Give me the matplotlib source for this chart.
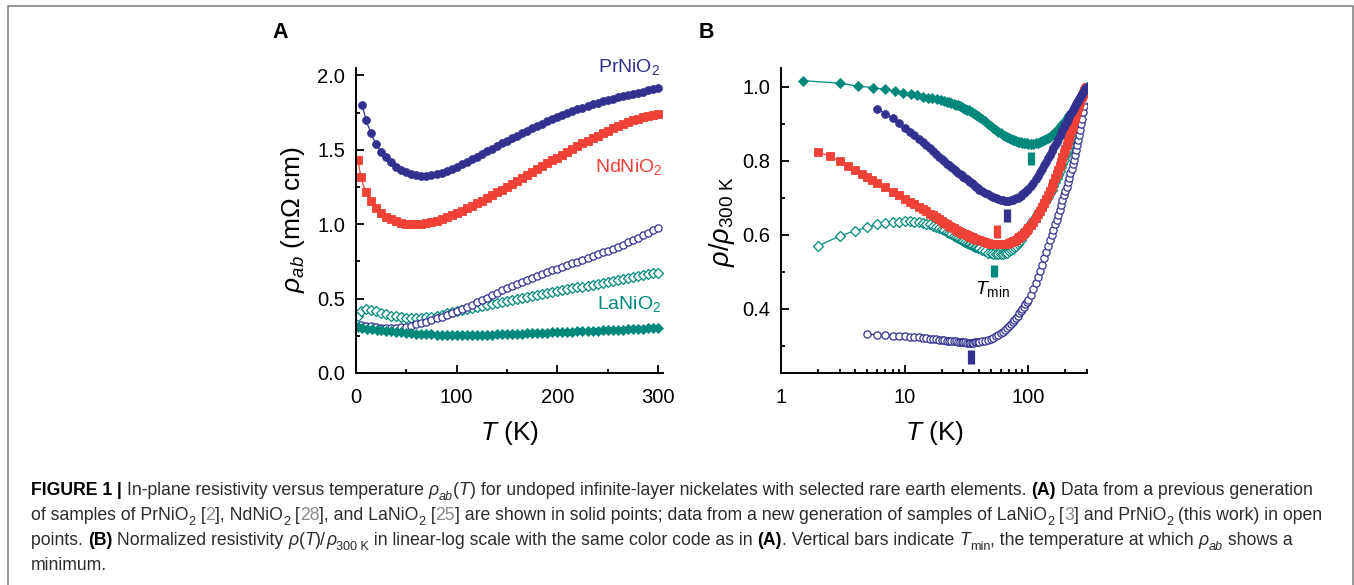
import numpy as np
import matplotlib
matplotlib.use("Agg")
import matplotlib.pyplot as plt
from matplotlib.ticker import LogLocator, NullFormatter, FixedLocator, FixedFormatter
from matplotlib.patches import Rectangle
from matplotlib.font_manager import FontProperties

plt.rcParams['font.family'] = ['Liberation Sans', 'DejaVu Sans']
plt.rcParams['mathtext.fontset'] = 'custom'
plt.rcParams['mathtext.rm'] = 'Liberation Sans'
plt.rcParams['mathtext.it'] = 'Liberation Sans:italic'
plt.rcParams['mathtext.bf'] = 'Liberation Sans:bold'
plt.rcParams['mathtext.sf'] = 'Liberation Sans'

# ---------------- data: rho/rho_300K (panel B) and rho_300K in mOhm cm ----------------
t_pr_solid = [6, 7, 8, 9, 10, 11, 12, 13, 14, 15, 16, 17, 18, 19, 20, 21, 22, 23, 24, 25, 26, 27, 28, 29, 30,
              31, 32, 33, 34, 35, 36, 37, 38, 39, 40, 42.5, 45, 47.5, 50, 52.5, 55, 57.5, 60, 62.5, 65, 67.5,
              70, 72.5, 75, 77.5, 80, 82.5, 85, 87.5, 90, 92.5, 95, 97.5, 100, 105, 110, 115, 120, 125, 130,
              135, 140, 145, 150, 155, 160, 165, 170, 175, 180, 185, 190, 195, 200, 205, 210, 215, 220, 225,
              230, 235, 240, 245, 250, 255, 260, 265, 270, 275, 280, 285, 290, 295, 300]
norm_pr_solid = [0.940, 0.927, 0.915, 0.902, 0.889, 0.878, 0.868, 0.859, 0.850, 0.841, 0.833, 0.825, 0.818,
                 0.811, 0.804, 0.798, 0.792, 0.787, 0.782, 0.777, 0.773, 0.768, 0.764, 0.760, 0.757, 0.753,
                 0.750, 0.746, 0.743, 0.739, 0.736, 0.732, 0.729, 0.725, 0.722, 0.717, 0.713, 0.709, 0.705,
                 0.702, 0.699, 0.697, 0.695, 0.693, 0.692, 0.692, 0.692, 0.693, 0.694, 0.696, 0.698, 0.700,
                 0.702, 0.705, 0.709, 0.712, 0.716, 0.720, 0.724, 0.732, 0.741, 0.750, 0.759, 0.769, 0.778,
                 0.787, 0.797, 0.806, 0.816, 0.825, 0.833, 0.842, 0.851, 0.859, 0.867, 0.875, 0.883, 0.890,
                 0.898, 0.905, 0.912, 0.919, 0.925, 0.931, 0.937, 0.943, 0.948, 0.953, 0.958, 0.962, 0.967,
                 0.971, 0.975, 0.980, 0.984, 0.988, 0.992, 0.996, 1.000]
rho300_pr_solid = 1.915

t_nd = [2, 2.5, 3, 3.5, 4, 4.5, 5, 5.5, 6, 7, 8, 9, 10, 11, 12, 13, 14, 15, 16, 17, 18, 19, 20, 21, 22, 23,
        24, 25, 26, 27, 28, 29, 30, 31, 32, 33, 34, 35, 36, 37, 38, 39, 40, 42.5, 45, 47.5, 50, 52.5, 55, 57.5,
        60, 62.5, 65, 67.5, 70, 72.5, 75, 77.5, 80, 82.5, 85, 87.5, 90, 92.5, 95, 97.5, 100, 105, 110, 115,
        120, 125, 130, 135, 140, 145, 150, 155, 160, 165, 170, 175, 180, 185, 190, 195, 200, 205, 210, 215,
        220, 225, 230, 235, 240, 245, 250, 255, 260, 265, 270, 275, 280, 285, 290, 295, 300]
norm_nd = [0.823, 0.812, 0.798, 0.785, 0.775, 0.765, 0.756, 0.748, 0.741, 0.728, 0.716, 0.706, 0.697, 0.689,
           0.682, 0.675, 0.669, 0.663, 0.657, 0.652, 0.647, 0.642, 0.637, 0.633, 0.629, 0.625, 0.621, 0.617,
           0.614, 0.611, 0.608, 0.605, 0.603, 0.601, 0.599, 0.597, 0.595, 0.593, 0.591, 0.589, 0.588, 0.586,
           0.585, 0.582, 0.580, 0.578, 0.576, 0.575, 0.575, 0.574, 0.574, 0.574, 0.575, 0.576, 0.578, 0.580,
           0.582, 0.584, 0.587, 0.590, 0.594, 0.597, 0.600, 0.604, 0.608, 0.612, 0.617, 0.626, 0.635, 0.645,
           0.655, 0.665, 0.676, 0.686, 0.697, 0.708, 0.719, 0.730, 0.741, 0.752, 0.763, 0.774, 0.786, 0.797,
           0.809, 0.820, 0.831, 0.843, 0.853, 0.864, 0.875, 0.886, 0.896, 0.906, 0.916, 0.926, 0.935, 0.944,
           0.953, 0.961, 0.968, 0.975, 0.981, 0.987, 0.992, 0.996, 1.000]
rho300_nd = 1.742

t_la_solid = [1.5, 3, 4.2, 5.6, 7, 8.4, 9.8, 11.2, 12.6, 14, 15.4, 16.8, 18.2, 19.6, 21, 22, 23, 24, 25, 26, 27,
              28, 29, 30, 31, 32, 33, 34, 35, 36, 37, 38, 39, 40, 42.5, 45, 47.5, 50, 52.5, 55, 57.5, 60, 62.5,
              65, 67.5, 70, 72.5, 75, 77.5, 80, 82.5, 85, 87.5, 90, 92.5, 95, 97.5, 100, 105, 110, 115, 120,
              125, 130, 135, 140, 145, 150, 155, 160, 165, 170, 175, 180, 185, 190, 195, 200, 205, 210, 215,
              220, 225, 230, 235, 240, 245, 250, 255, 260, 265, 270, 275, 280, 285, 290, 295, 300]
norm_la_solid = [1.016, 1.009, 1.001, 0.997, 0.992, 0.987, 0.983, 0.979, 0.976, 0.973, 0.970, 0.968, 0.966,
                 0.963, 0.961, 0.959, 0.957, 0.955, 0.953, 0.951, 0.949, 0.947, 0.945, 0.943, 0.9405, 0.938,
                 0.9355, 0.933, 0.9305, 0.928, 0.9255, 0.923, 0.9205, 0.918, 0.912, 0.906, 0.900, 0.894,
                 0.888, 0.883, 0.878, 0.874, 0.870, 0.867, 0.864, 0.861, 0.859, 0.857, 0.855, 0.853, 0.8515,
                 0.850, 0.849, 0.848, 0.8475, 0.847, 0.8465, 0.846, 0.846, 0.846, 0.847, 0.848, 0.850, 0.852,
                 0.855, 0.858, 0.861, 0.865, 0.869, 0.873, 0.877, 0.881, 0.885, 0.890, 0.894, 0.899, 0.903,
                 0.908, 0.913, 0.917, 0.922, 0.926, 0.931, 0.935, 0.940, 0.945, 0.949, 0.954, 0.959, 0.963,
                 0.968, 0.972, 0.977, 0.982, 0.986, 0.991, 0.995, 1.000]
rho300_la_solid = 0.302

t_la_open = [2, 3, 4, 5, 6, 7, 8, 9, 10, 11, 12, 13, 14, 15, 16, 17, 18, 19, 20, 21, 22, 23, 24, 25, 26, 27, 28,
             29, 30, 31, 32, 33, 34, 35, 36, 37, 38, 39, 40, 42.5, 45, 47.5, 50, 52.5, 55, 57.5, 60, 62.5, 65,
             67.5, 70, 72.5, 75, 77.5, 80, 82.5, 85, 87.5, 90, 92.5, 95, 97.5, 100, 105, 110, 115, 120, 125,
             130, 135, 140, 145, 150, 155, 160, 165, 170, 175, 180, 185, 190, 195, 200, 205, 210, 215, 220,
             225, 230, 235, 240, 245, 250, 255, 260, 265, 270, 275, 280, 285, 290, 295, 300]
norm_la_open = [0.570, 0.597, 0.611, 0.620, 0.628, 0.632, 0.634, 0.635, 0.636, 0.636, 0.635, 0.634, 0.632,
                0.630, 0.628, 0.625, 0.622, 0.619, 0.615, 0.612, 0.608, 0.605, 0.601, 0.598, 0.595, 0.592,
                0.589, 0.586, 0.584, 0.581, 0.579, 0.576, 0.574, 0.572, 0.570, 0.568, 0.566, 0.564, 0.563,
                0.559, 0.555, 0.552, 0.550, 0.548, 0.547, 0.547, 0.547, 0.548, 0.550, 0.552, 0.555, 0.558,
                0.562, 0.566, 0.571, 0.576, 0.581, 0.587, 0.593, 0.599, 0.606, 0.613, 0.620,
                0.631, 0.640, 0.649, 0.658, 0.667, 0.676, 0.685, 0.694, 0.703, 0.712, 0.722, 0.732, 0.742,
                0.752, 0.762, 0.772, 0.782, 0.792, 0.802, 0.812, 0.822, 0.832, 0.842, 0.852, 0.861, 0.870,
                0.879, 0.889, 0.898, 0.907, 0.916, 0.925, 0.934, 0.944, 0.953, 0.962, 0.972, 0.981, 0.991,
                1.000]
rho300_la_open = 0.675

t_pr_open = [5, 6, 7, 8, 9, 10, 11, 12, 13, 14, 15, 16, 17, 18, 19, 20, 21, 22, 23, 24, 25, 26, 27, 28, 29, 30,
             31, 32, 33, 34, 35, 36, 37, 38, 39, 40, 42.5, 45, 47.5, 50, 52.5, 55, 57.5, 60, 62.5, 65, 67.5, 70,
             72.5, 75, 77.5, 80, 82.5, 85, 87.5, 90, 92.5, 95, 97.5, 100, 105, 110, 115, 120, 125, 130, 135,
             140, 145, 150, 155, 160, 165, 170, 175, 180, 185, 190, 195, 200, 205, 210, 215, 220, 225, 230,
             235, 240, 245, 250, 255, 260, 265, 270, 275, 280, 285, 290, 295, 300]
norm_pr_open = [0.332, 0.330, 0.329, 0.328, 0.327, 0.326, 0.325, 0.324, 0.323, 0.322, 0.321, 0.320, 0.319,
                0.318, 0.317, 0.316, 0.315, 0.314, 0.3135, 0.313, 0.3125, 0.312, 0.3115, 0.311, 0.3105, 0.310,
                0.3095, 0.309, 0.309, 0.309, 0.309, 0.309, 0.3095, 0.310, 0.3105, 0.311, 0.312, 0.314, 0.316,
                0.319, 0.322, 0.326, 0.330, 0.334, 0.338, 0.343, 0.348, 0.353, 0.358, 0.364, 0.370, 0.376,
                0.382, 0.388, 0.394, 0.400, 0.406, 0.412, 0.418, 0.424, 0.438, 0.453, 0.469, 0.486, 0.503,
                0.519, 0.536, 0.553, 0.569, 0.585, 0.600, 0.614, 0.628, 0.641, 0.654, 0.667, 0.680, 0.693,
                0.706, 0.718, 0.730, 0.742, 0.754, 0.766, 0.778, 0.790, 0.803, 0.816, 0.829, 0.842, 0.856,
                0.870, 0.884, 0.898, 0.913, 0.930, 0.947, 0.964, 0.982, 1.000]
rho300_pr_open = 0.977

# T_min of each series (K)
tmin_la_solid, tmin_pr_solid, tmin_nd, tmin_la_open, tmin_pr_open = 106, 67, 56, 53, 34.5

# ---------------- styles ----------------
C_PR = '#32318f'
C_ND = '#ef4136'
C_LA = '#00897b'

W, H = 1354, 585
fig = plt.figure(figsize=(W / 100, H / 100), dpi=100)

axA = fig.add_axes([356 / W, 1 - 373 / H, 307 / W, 305 / H])
axB = fig.add_axes([781 / W, 1 - 373 / H, 306 / W, 305 / H])

series = [
    (t_la_open, norm_la_open, rho300_la_open, C_LA, 'D', False, 4.8),
    (t_pr_open, norm_pr_open, rho300_pr_open, C_PR, 'o', False, 5.2),
    (t_la_solid, norm_la_solid, rho300_la_solid, C_LA, 'D', True, 4.9),
    (t_nd, norm_nd, rho300_nd, C_ND, 's', True, 5.2),
    (t_pr_solid, norm_pr_solid, rho300_pr_solid, C_PR, 'o', True, 5.6),
]

for t, n, r300, c, m, filled, ms in series:
    t = np.asarray(t, float)
    n = np.asarray(n, float)
    rho = n * r300
    # panel A shows one marker per 5 K interval
    keep = np.r_[0, np.nonzero(np.diff(np.floor(t / 5)))[0] + 1]
    kw = dict(color=c, lw=0.9, marker=m, ms=ms, mec=c,
              mfc=(c if filled else 'white'), mew=(0.6 if filled else 0.9))
    axA.plot(t, rho, markevery=list(keep), **kw)
    axB.plot(t, n, **kw)

for ax in (axA, axB):
    for s in ('top', 'right'):
        ax.spines[s].set_visible(False)
    for s in ('left', 'bottom'):
        ax.spines[s].set_linewidth(1.4)
    ax.tick_params(which='both', direction='in', width=1.3, labelsize=14.5)
    ax.tick_params(axis='x', which='both', pad=11)
    ax.tick_params(axis='y', which='both', pad=8)
    ax.tick_params(which='major', length=6)
    ax.tick_params(which='minor', length=3.2)

# ---------------- panel A ----------------
axA.set_xlim(0, 305)
axA.set_ylim(0, 2.05)
axA.xaxis.set_major_locator(FixedLocator([0, 100, 200, 300]))
axA.xaxis.set_minor_locator(FixedLocator([50, 150, 250]))
axA.yaxis.set_major_locator(FixedLocator([0.0, 0.5, 1.0, 1.5, 2.0]))
axA.yaxis.set_major_formatter(FixedFormatter(['0.0', '0.5', '1.0', '1.5', '2.0']))
axA.yaxis.set_minor_locator(FixedLocator([0.25, 0.75, 1.25, 1.75]))

axA.text(302, 2.055, 'PrNiO$_2$', color=C_PR, fontsize=14, ha='right', va='center', clip_on=False)
axA.text(305, 1.387, 'NdNiO$_2$', color=C_ND, fontsize=14, ha='right', va='center', clip_on=False)
axA.text(303, 0.463, 'LaNiO$_2$', color=C_LA, fontsize=14, ha='right', va='center', clip_on=False)

fig.text(293 / W, 1 - 220 / H, r'$\mathit{ρ}_{\mathit{ab}}$ (m$\Omega$ cm)', rotation=90,
         fontsize=19, ha='center', va='center')
fig.text(510 / W, 1 - 433 / H, r'$\mathit{T}$ (K)', fontsize=19, ha='center', va='center')

# ---------------- panel B ----------------
axB.set_xscale('log')
axB.set_xlim(1, 300)
axB.set_ylim(0.227, 1.05)
axB.xaxis.set_major_locator(FixedLocator([1, 10, 100]))
axB.xaxis.set_major_formatter(FixedFormatter(['1', '10', '100']))
axB.xaxis.set_minor_locator(LogLocator(base=10, subs=np.arange(2, 10)))
axB.xaxis.set_minor_formatter(NullFormatter())
axB.yaxis.set_major_locator(FixedLocator([0.4, 0.6, 0.8, 1.0]))
axB.yaxis.set_major_formatter(FixedFormatter(['0.4', '0.6', '0.8', '1.0']))
axB.yaxis.set_minor_locator(FixedLocator([0.3, 0.5, 0.7, 0.9]))

bars = [(tmin_la_solid, 0.788, 0.824, C_LA), (tmin_pr_solid, 0.635, 0.669, C_PR),
        (tmin_nd, 0.590, 0.626, C_ND), (tmin_la_open, 0.485, 0.518, C_LA),
        (tmin_pr_open, 0.250, 0.288, C_PR)]
for x, y0, y1, c in bars:
    axB.plot([x, x], [y0, y1], color=c, lw=5.2, solid_capstyle='butt')
axB.text(51.5, 0.455, r'$\mathit{T}_{\mathrm{min}}$', fontsize=14, ha='center', va='center')

fig.text(722 / W, 1 - 222 / H, r'$\mathit{ρ}/\mathit{ρ}_{\mathrm{300\ K}}$', rotation=90,
         fontsize=19.5, ha='center', va='center')
fig.text(935 / W, 1 - 433 / H, r'$\mathit{T}$ (K)', fontsize=19, ha='center', va='center')

fig.text(280 / W, 1 - 33 / H, 'A', fontsize=15.5, fontweight='bold', ha='center', va='center')
fig.text(706 / W, 1 - 33 / H, 'B', fontsize=15.5, fontweight='bold', ha='center', va='center')

# ---------------- frame and caption ----------------
fig.add_artist(Rectangle((8 / W, -0.05), (1352.5 - 8) / W, 1.05 - 6 / H, transform=fig.transFigure,
                         fill=False, edgecolor='#7a7a7a', lw=1.1))

TXT = '#2b2b2b'
GRAY = '#8a8a8a'
N = dict(color=TXT)
I = dict(color=TXT, style='italic')
B = dict(color='black', weight='bold')
G = dict(color=GRAY)
SUB = 'sub'

lines = [
    (495, 1275, [('FIGURE 1', B), (' | ', B), ('In-plane resistivity versus temperature ', N),
                 ('ρ', I), ('ab', I, SUB), ('(', N), ('T', I),
                 (') for undoped infinite-layer nickelates with selected rare earth elements. ', N),
                 ('(A)', B), (' Data from a previous generation', N)]),
    (520, 1327, [('of samples of PrNiO', N), ('2', N, SUB), (' [', N), ('2', G), ('], NdNiO', N),
                 ('2', N, SUB), (' [', N), ('28', G), ('], and LaNiO', N), ('2', N, SUB), (' [', N),
                 ('25', G), ('] are shown in solid points; data from a new generation of samples of LaNiO', N),
                 ('2', N, SUB), (' [', N), ('3', G), ('] and PrNiO', N), ('2', N, SUB),
                 (' (this work) in open', N)]),
    (545, 1313, [('points. ', N), ('(B)', B), (' Normalized resistivity ', N), ('ρ', I), ('(', N), ('T', I),
                 (')/', N), ('ρ', I), ('300 K', N, SUB),
                 (' in linear-log scale with the same color code as in ', N), ('(A)', B),
                 ('. Vertical bars indicate ', N), ('T', I), ('min', N, SUB),
                 (', the temperature at which ', N), ('ρ', I), ('ab', I, SUB), (' shows a', N)]),
    (570, None, [('minimum.', N)]),
]

renderer = fig.canvas.get_renderer()


def fprops(kw, size):
    return FontProperties(family=['Liberation Sans', 'DejaVu Sans'], size=size,
                          weight=kw.get('weight', 'normal'), style=kw.get('style', 'normal'))


def advance(s, kw, size):
    fp = fprops(kw, size)
    w1 = renderer.get_text_width_height_descent(s + '|', fp, ismath=False)[0]
    w2 = renderer.get_text_width_height_descent('|', fp, ismath=False)[0]
    return w1 - w2


def seg_size(seg, fs):
    return fs * 0.72 if len(seg) > 2 else fs


def line_width(segs, fs):
    return sum(advance(sg[0], sg[1], seg_size(sg, fs)) for sg in segs)


FS0 = 11.0
ratios = [(end - 31.0) / line_width(segs, FS0) for _, end, segs in lines if end is not None]
FS = FS0 * float(np.mean(ratios))

for ybase, _, segs in lines:
    x = 31.0
    for sg in segs:
        s, kw = sg[0], sg[1]
        size = seg_size(sg, FS)
        dy = 0.3 * FS * 100 / 72 if len(sg) > 2 else 0.0
        fig.text(x / W, 1 - (ybase + dy) / H, s, fontsize=size, ha='left', va='baseline',
                 color=kw['color'], fontweight=kw.get('weight', 'normal'),
                 fontstyle=kw.get('style', 'normal'))
        x += advance(s, kw, size)

fig.savefig('out.png', dpi=100)
